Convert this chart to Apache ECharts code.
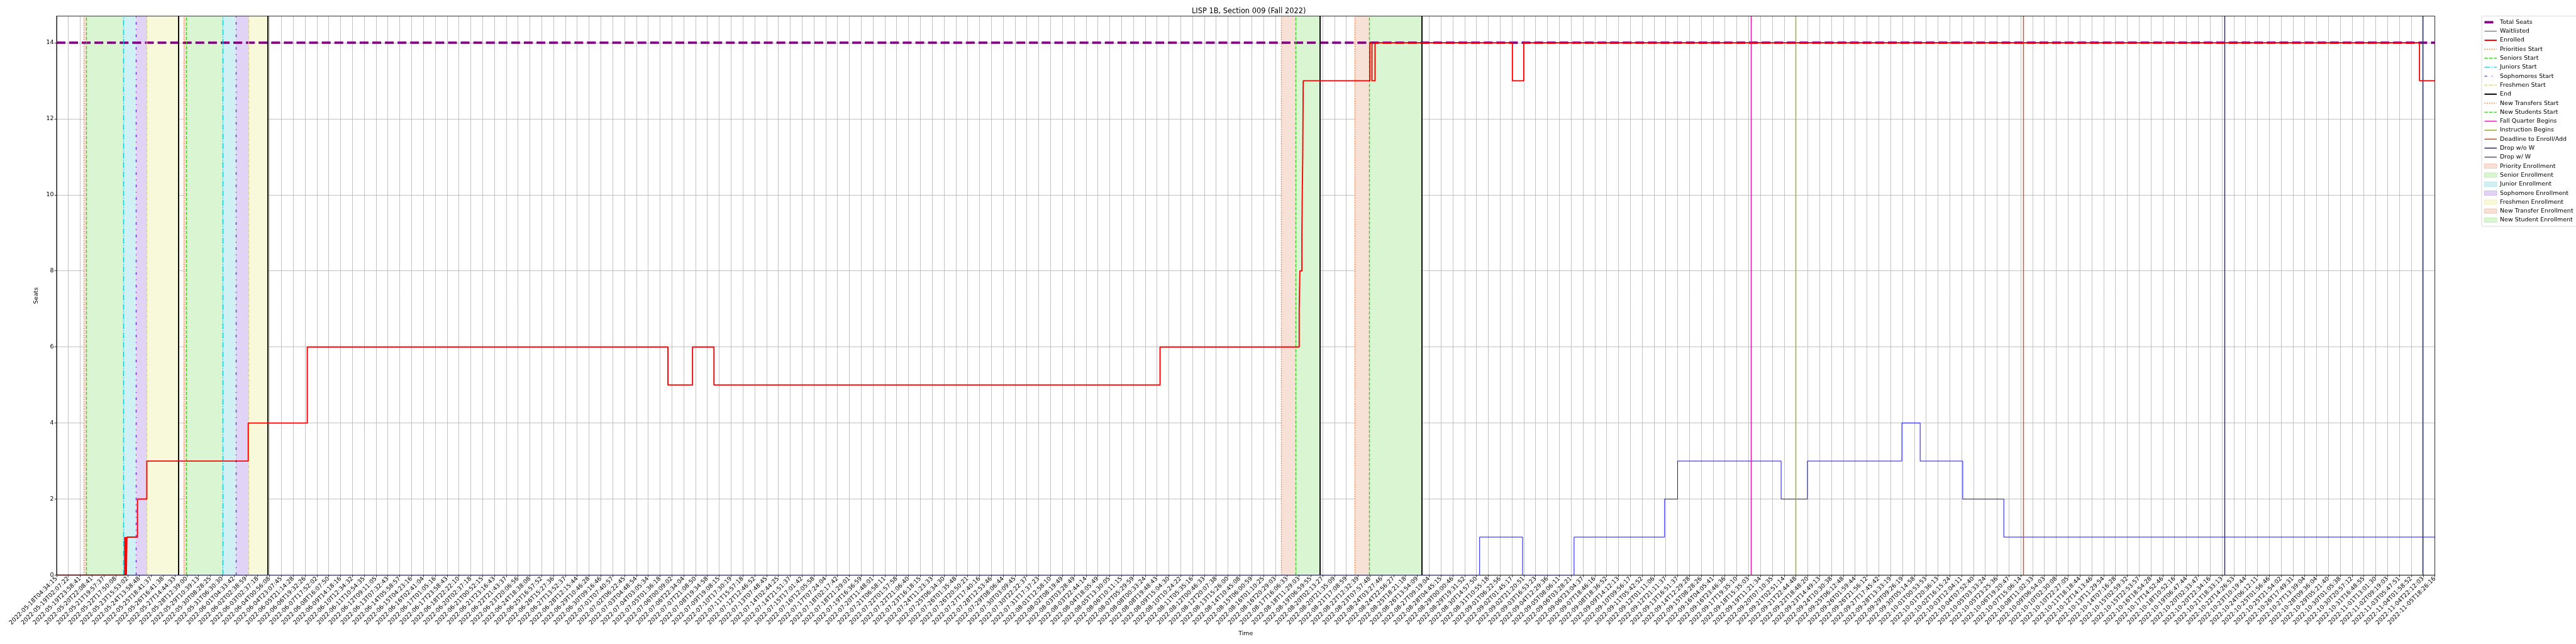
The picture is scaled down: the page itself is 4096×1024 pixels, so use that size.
<!DOCTYPE html>
<html><head><meta charset="utf-8">
<script src="https://cdn.jsdelivr.net/npm/echarts/dist/echarts.min.js"></script>
<style>html,body{margin:0;padding:0;background:#fff}#c{width:4096px;height:1024px}</style>
</head><body><div id="c"></div><script>
const tickLabels = [
"2022-05-18T04:34:15","2022-05-19T02:07:22","2022-05-19T23:58:41","2022-05-20T22:08:41","2022-05-21T19:57:37",
"2022-05-22T17:50:08","2022-05-23T15:53:02","2022-05-24T13:58:48","2022-05-25T18:41:37","2022-05-26T16:41:38",
"2022-05-27T14:44:33","2022-05-28T12:39:00","2022-05-29T10:39:13","2022-05-30T08:28:25","2022-05-31T06:30:30",
"2022-06-01T04:33:42","2022-06-02T02:38:59","2022-06-03T02:37:18","2022-06-04T00:56:08","2022-06-04T23:07:45",
"2022-06-05T21:14:28","2022-06-06T19:32:26","2022-06-07T17:52:02","2022-06-08T16:07:50","2022-06-09T14:18:16",
"2022-06-10T12:34:32","2022-06-11T10:54:35","2022-06-12T09:11:05","2022-06-13T07:32:43","2022-06-14T05:58:57",
"2022-06-15T04:23:16","2022-06-16T02:41:04","2022-06-17T01:05:16","2022-06-17T23:58:43","2022-06-18T22:22:10",
"2022-06-20T02:37:18","2022-06-21T00:52:15","2022-06-21T23:16:43","2022-06-22T21:43:37","2022-06-23T20:06:56",
"2022-06-24T18:38:08","2022-06-25T16:57:52","2022-06-26T15:27:36","2022-06-27T13:52:37","2022-06-28T12:15:44",
"2022-06-29T10:46:28","2022-06-30T09:16:46","2022-07-01T07:40:57","2022-07-02T06:22:45","2022-07-03T04:48:54",
"2022-07-04T03:05:34","2022-07-05T01:36:18","2022-07-06T00:09:02","2022-07-06T22:34:04","2022-07-07T21:08:50",
"2022-07-08T19:34:58","2022-07-09T19:08:15","2022-07-10T17:30:19","2022-07-11T15:57:18","2022-07-12T12:46:52",
"2022-07-13T07:48:45","2022-07-14T02:44:25","2022-07-14T21:51:37","2022-07-15T17:01:42","2022-07-16T12:05:58",
"2022-07-17T07:24:04","2022-07-18T02:17:42","2022-07-18T21:29:01","2022-07-19T16:36:59","2022-07-20T11:48:01",
"2022-07-21T06:58:11","2022-07-22T01:57:58","2022-07-22T21:06:40","2022-07-23T16:18:15","2022-07-24T11:23:33",
"2022-07-25T06:34:30","2022-07-26T01:35:48","2022-07-26T20:50:21","2022-07-27T17:40:16","2022-07-28T12:53:46",
"2022-07-29T08:06:44","2022-07-30T03:09:45","2022-07-30T22:22:37","2022-07-31T17:37:23","2022-08-01T12:58:10",
"2022-08-02T08:19:49","2022-08-03T03:28:49","2022-08-03T22:44:14","2022-08-04T18:05:49","2022-08-05T13:30:05",
"2022-08-06T10:11:15","2022-08-07T05:29:59","2022-08-08T00:33:24","2022-08-08T19:48:43","2022-08-09T15:04:30",
"2022-08-10T10:24:22","2022-08-11T05:35:16","2022-08-12T00:46:33","2022-08-12T20:07:38","2022-08-13T15:26:00",
"2022-08-14T10:45:08","2022-08-15T06:00:59","2022-08-16T01:10:25","2022-08-16T20:29:03","2022-08-17T16:06:33",
"2022-08-18T11:29:03","2022-08-19T06:59:55","2022-08-20T02:13:27","2022-08-20T21:35:09","2022-08-21T17:08:59",
"2022-08-22T12:32:39","2022-08-23T07:57:48","2022-08-24T03:27:46","2022-08-24T22:56:27","2022-08-25T18:21:18",
"2022-08-26T13:54:09","2022-08-27T09:19:04","2022-08-28T04:45:15","2022-08-29T00:00:46","2022-08-29T19:31:52",
"2022-08-30T14:57:50","2022-08-31T10:55:18","2022-09-01T06:22:56","2022-09-02T01:45:17","2022-09-02T21:20:51",
"2022-09-03T16:53:23","2022-09-04T12:29:36","2022-09-05T08:06:11","2022-09-06T03:28:21","2022-09-06T23:04:37",
"2022-09-07T18:46:16","2022-09-08T18:36:52","2022-09-09T14:12:13","2022-09-10T09:56:17","2022-09-11T05:42:52",
"2022-09-12T01:11:06","2022-09-12T21:11:37","2022-09-13T16:51:37","2022-09-14T12:29:28","2022-09-15T08:28:26",
"2022-09-16T04:05:41","2022-09-16T23:46:36","2022-09-17T19:35:10","2022-09-18T15:35:03","2022-09-19T11:21:34",
"2022-09-20T07:10:35","2022-09-21T02:51:14","2022-09-21T22:44:48","2022-09-22T18:48:20","2022-09-23T14:49:13",
"2022-09-24T10:30:38","2022-09-25T06:12:48","2022-09-26T01:59:44","2022-09-26T21:56:12","2022-09-27T17:45:42",
"2022-09-28T13:33:19","2022-09-29T09:26:19","2022-09-30T05:14:58","2022-10-01T00:53:53","2022-10-01T20:36:13",
"2022-10-02T16:15:24","2022-10-03T12:04:11","2022-10-04T07:52:40","2022-10-05T03:33:24","2022-10-05T23:25:36",
"2022-10-06T19:20:47","2022-10-07T15:06:14","2022-10-08T11:02:33","2022-10-09T06:54:03","2022-10-10T02:30:08",
"2022-10-10T22:27:05","2022-10-11T18:18:44","2022-10-12T14:13:46","2022-10-13T11:29:54","2022-10-14T07:16:28",
"2022-10-15T02:59:32","2022-10-15T22:53:57","2022-10-16T18:54:28","2022-10-17T14:52:46","2022-10-18T10:52:16",
"2022-10-19T06:47:44","2022-10-20T02:33:47","2022-10-20T22:34:16","2022-10-21T18:33:13","2022-10-22T14:26:53",
"2022-10-23T10:19:44","2022-10-24T06:12:11","2022-10-25T01:56:46","2022-10-25T21:54:02","2022-10-26T17:49:31",
"2022-10-27T13:39:04","2022-10-28T09:36:04","2022-10-29T05:21:40","2022-10-30T01:05:38","2022-10-30T20:57:12",
"2022-10-31T16:48:55","2022-11-01T13:01:30","2022-11-02T09:19:03","2022-11-03T05:47:51","2022-11-04T01:58:52",
"2022-11-04T22:12:03","2022-11-05T18:26:16"];

// x positions are measured in tick-label units (0 = first label, 201 = last label)
const totalSeats = 14;
const enrolledTimes  = [0, 5.76, 5.80, 5.86, 5.90, 5.95, 6.84, 7.63, 16.2, 21.19, 51.67, 53.75, 55.56, 93.26, 105.02, 105.08, 105.25, 105.28, 105.32, 105.34, 105.36, 110.99, 111.17, 111.43, 123.04, 124.0, 199.7, 201];
const enrolledValues = [0, 1, 0, 1, 0, 1, 2, 3, 4, 6, 5, 6, 5, 6, 7, 8, 9, 10, 11, 12, 13, 14, 13, 14, 13, 14, 13, 13];
const waitTimes  = [0, 120.27, 123.9, 128.25, 135.9, 137.0, 145.75, 147.97, 155.95, 157.5, 161.1, 164.57, 201];
const waitValues = [0, 1, 0, 1, 2, 3, 2, 3, 4, 3, 2, 1, 1];

const prioritiesStart = [2.32, 10.75, 103.5];
const seniorsStart = [2.51, 10.98, 104.7];
const juniorsStart = [5.63, 14.03];
const sophomoresStart = [6.72, 15.14];
const freshmenStart = [7.63, 16.22];
const endTimes = [10.32, 17.85, 106.75, 115.4];
const newTransfersStart = [109.7];
const newStudentsStart = [110.93];
const fallQuarterBegins = [143.22];
const instructionBegins = [147.0];
const deadlineAdd = [166.24];
const dropNoW = [183.25];
const dropW = [199.95];

const priorityEnroll = [[2.32, 2.51], [10.75, 10.98], [103.5, 104.7]];
const seniorEnroll = [[2.51, 5.63], [10.98, 14.03], [104.7, 106.75]];
const juniorEnroll = [[5.63, 6.72], [14.03, 15.14]];
const sophomoreEnroll = [[6.72, 7.63], [15.14, 16.22]];
const freshmenEnroll = [[7.63, 10.32], [16.22, 17.85]];
const newTransferEnroll = [[109.7, 110.93]];
const newStudentEnroll = [[110.93, 115.4]];

const S = 0.682;
const FONT = 'DejaVu Sans';
const pt = 1.389 * S; // one matplotlib point in window px
const lastTick = tickLabels.length - 1;
const LW = 19.5, LH = 7; // legend handle box

function stepSeries(name, ts, vs, color, lw, z) {
  return { name, type: 'line', step: 'end', symbol: 'none', z, animation: false, _lw: lw, _dash: null,
    data: ts.map((t, i) => [t, vs[i]]), lineStyle: { color, width: lw * pt }, itemStyle: { color } };
}
function vline(name, times, color, lw, dash) {
  const w = lw * pt;
  const type = dash ? dash.map(d => d * w) : 'solid';
  const ls = { color, width: w, type };
  return { name, type: 'line', data: [], symbol: 'none', z: 6, animation: false, _lw: lw, _dash: dash,
    lineStyle: ls, itemStyle: { color },
    markLine: { silent: true, animation: false, symbol: ['none', 'none'], label: { show: false },
      lineStyle: ls, emphasis: { disabled: true }, data: times.map(t => ({ xAxis: t })) } };
}
function shade(name, spans, color, edge) {
  return { name, type: 'line', data: [], symbol: 'none', z: 0, animation: false,
    itemStyle: { color, borderColor: edge }, lineStyle: { color, width: 0 },
    markArea: { silent: true, animation: false, itemStyle: { color, opacity: 1 }, emphasis: { disabled: true },
      data: spans.map(s => [{ xAxis: s[0] }, { xAxis: s[1] }]) } };
}
// legend handle drawn as a path: a (dashed) bar of the series' width, centred in the handle box
function handlePath(lw, dash) {
  const w = lw * pt, y0 = (LH - w) / 2, y1 = (LH + w) / 2;
  let p = `M0,0h0.01v0.01h-0.01Z M${LW - 0.01},${LH - 0.01}h0.01v0.01h-0.01Z`;
  if (!dash) p += ` M0,${y0}H${LW}V${y1}H0Z`;
  else {
    let x = 0, i = 0;
    while (x < LW - 0.01) {
      const len = dash[i % dash.length] * w;
      if (i % 2 === 0) { const x2 = Math.min(LW, x + len); p += ` M${x},${y0}H${x2}V${y1}H${x}Z`; }
      x += len; i++;
    }
  }
  return 'path://' + p;
}
const DOT = [1, 1.65], DASH = [3.7, 1.6], DASHDOT = [6.4, 1.6, 1, 1.6], SPARSE = [3, 5, 1, 5], DENSE_DD = [3, 1, 1, 1];

const cOrange = '#f07030', cGreen = '#3ccc1e', cCyan = '#10c8d8', cPurple = '#6b2bd6', cYellow = '#dede22';
const shPriority = '#f7e0d6', shSenior = '#daf5d2', shJunior = '#cff1f4', shSoph = '#e1d3f5', shFresh = '#f8f9da';

const series = [
  { name: 'Total Seats', type: 'line', symbol: 'none', z: 3, animation: false, _lw: 4, _dash: DASH,
    data: [[0, totalSeats], [lastTick, totalSeats]],
    lineStyle: { color: '#800080', width: 4 * pt, type: DASH.map(d => d * 4 * pt) }, itemStyle: { color: '#800080' } },
  stepSeries('Waitlisted', waitTimes, waitValues, '#0000ff', 1, 4),
  stepSeries('Enrolled', enrolledTimes, enrolledValues, '#ff0000', 2, 5),
  vline('Priorities Start', prioritiesStart, cOrange, 1.5, DOT),
  vline('Seniors Start', seniorsStart, cGreen, 1.5, DASH),
  vline('Juniors Start', juniorsStart, cCyan, 1.5, DASHDOT),
  vline('Sophomores Start', sophomoresStart, cPurple, 1.5, SPARSE),
  vline('Freshmen Start', freshmenStart, cYellow, 1.5, DENSE_DD),
  vline('End', endTimes, '#000000', 2, null),
  vline('New Transfers Start', newTransfersStart, cOrange, 1.5, DOT),
  vline('New Students Start', newStudentsStart, cGreen, 1.5, DASH),
  vline('Fall Quarter Begins', fallQuarterBegins, '#e0119d', 1.5, null),
  vline('Instruction Begins', instructionBegins, '#8db31a', 1.5, null),
  vline('Deadline to Enroll/Add', deadlineAdd, '#d9481c', 1.5, null),
  vline('Drop w/o W', dropNoW, '#2b1f87', 1.5, null),
  vline('Drop w/ W', dropW, '#2f3b5c', 1.5, null),
  shade('Priority Enrollment', priorityEnroll, shPriority, '#f0c8b8'),
  shade('Senior Enrollment', seniorEnroll, shSenior, '#c4ecb8'),
  shade('Junior Enrollment', juniorEnroll, shJunior, '#b4e6ec'),
  shade('Sophomore Enrollment', sophomoreEnroll, shSoph, '#cfbaf0'),
  shade('Freshmen Enrollment', freshmenEnroll, shFresh, '#eef0bc'),
  shade('New Transfer Enrollment', newTransferEnroll, shPriority, '#f0c8b8'),
  shade('New Student Enrollment', newStudentEnroll, shSenior, '#c4ecb8')
];

const legendData = series.map(s => {
  if (s.markArea) return { name: s.name, icon: 'rect',
    itemStyle: { color: s.itemStyle.color, borderColor: s.itemStyle.borderColor, borderWidth: 1, opacity: 1 } };
  return { name: s.name, icon: handlePath(s._lw, s._dash),
    itemStyle: { color: s.lineStyle.color, borderWidth: 0, opacity: 1 } };
});

const chart = echarts.init(document.getElementById('c'), null, { renderer: 'canvas' });
chart.setOption({
  animation: false,
  backgroundColor: '#ffffff',
  textStyle: { fontFamily: FONT },
  title: { text: 'LISP 1B, Section 009 (Fall 2022)', left: 1980.7, top: 8, textAlign: 'center',
    textStyle: { fontFamily: FONT, fontSize: 11.4, fontWeight: 'normal', color: '#000' } },
  legend: { orient: 'vertical', left: 3946, top: 25.5, data: legendData,
    itemWidth: LW, itemHeight: LH, itemGap: 2.6, padding: [4, 30, 4, 4], symbolKeepAspect: false,
    borderColor: '#d0d0d0', borderWidth: 0.8, borderRadius: 2.5, backgroundColor: '#ffffff',
    selectedMode: false, inactiveColor: '#000',
    textStyle: { fontFamily: FONT, fontSize: 9.5, color: '#000', lineHeight: 11.7 } },
  grid: { left: 89.9, right: 4096 - 3871.6, top: 25.6, bottom: 1024 - 914.5, containLabel: false,
    show: true, borderColor: '#000', borderWidth: 0.8 * pt, z: 8 },
  xAxis: { type: 'value', min: 0, max: lastTick, interval: 1, z: 1,
    name: 'Time', nameLocation: 'middle', nameGap: 88,
    nameTextStyle: { fontFamily: FONT, fontSize: 9.5, color: '#000' },
    axisLine: { show: true, lineStyle: { color: '#000', width: 0.8 * pt } },
    axisTick: { show: true, length: 3.5 * pt, lineStyle: { color: '#000', width: 0.8 * pt } },
    axisLabel: { rotate: 45, margin: 3.5 * pt + 1, fontFamily: FONT, fontSize: 9.5, color: '#000',
      formatter: v => tickLabels[Math.round(v)] || '' },
    splitLine: { show: true, lineStyle: { color: '#b0b0b0', width: 0.8 * pt } } },
  yAxis: { type: 'value', min: 0, max: 14.7, interval: 2, z: 1,
    name: 'Seats', nameLocation: 'middle', nameGap: 22,
    nameTextStyle: { fontFamily: FONT, fontSize: 9.5, color: '#000' },
    axisLine: { show: true, lineStyle: { color: '#000', width: 0.8 * pt } },
    axisTick: { show: true, length: 3.5 * pt, lineStyle: { color: '#000', width: 0.8 * pt } },
    axisLabel: { margin: 3.5 * pt + 1, fontFamily: FONT, fontSize: 9.5, color: '#000', showMaxLabel: false },
    splitLine: { show: true, lineStyle: { color: '#b0b0b0', width: 0.8 * pt } } },
  series
});
</script></body></html>
